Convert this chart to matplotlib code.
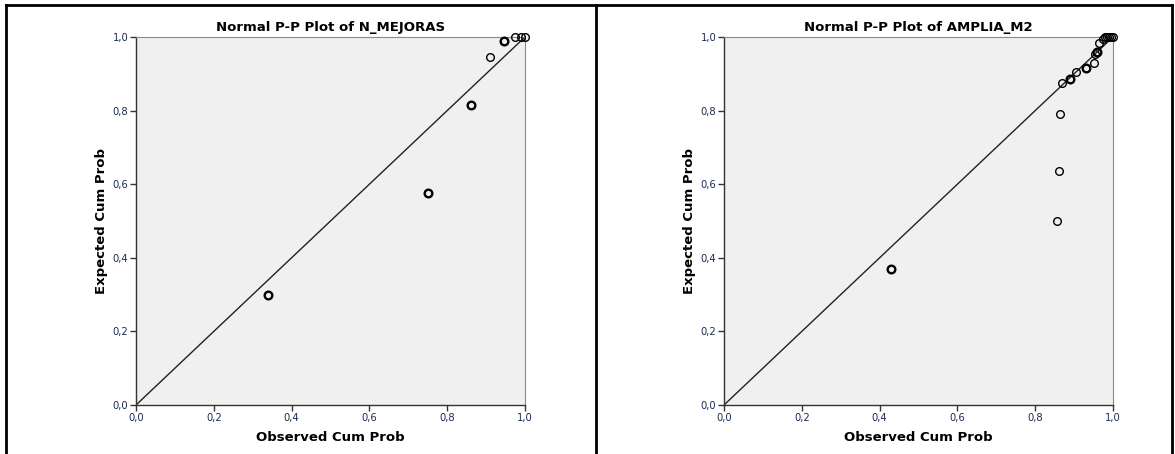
import matplotlib
matplotlib.use("Agg")
import matplotlib.pyplot as plt
from matplotlib.lines import Line2D
from matplotlib.ticker import FixedLocator, FuncFormatter

# ---- data ----
titles = ["Normal P-P Plot of N_MEJORAS", "Normal P-P Plot of AMPLIA_M2"]
xlabel = "Observed Cum Prob"
ylabel = "Expected Cum Prob"
ticks = [0.0, 0.2, 0.4, 0.6, 0.8, 1.0]

mejoras_obs = [0.34, 0.75, 0.86, 0.91, 0.945, 0.975, 0.99, 1.0]
mejoras_exp = [0.30, 0.575, 0.815, 0.945, 0.99, 1.0, 1.0, 1.0]
mejoras_cnt = [2, 2, 2, 1, 2, 1, 1, 1]

amplia_obs = [0.43, 0.855, 0.86, 0.865, 0.87, 0.89, 0.905, 0.93, 0.95, 0.955,
              0.96, 0.965, 0.975, 0.98, 0.985, 0.99, 0.995, 1.0]
amplia_exp = [0.37, 0.50, 0.635, 0.79, 0.875, 0.885, 0.905, 0.915, 0.93, 0.955,
              0.96, 0.985, 0.995, 1.0, 1.0, 1.0, 1.0, 1.0]
amplia_cnt = [2, 1, 1, 1, 1, 2, 1, 2, 1, 1, 2, 1, 1, 1, 1, 1, 1, 1]

panels = [(mejoras_obs, mejoras_exp, mejoras_cnt), (amplia_obs, amplia_exp, amplia_cnt)]

W, H = 1175, 454
fig = plt.figure(figsize=(W / 100, H / 100), dpi=100)
fig.patch.set_facecolor("white")

tick_color = "#1c2a55"
fmt = FuncFormatter(lambda v, p: f"{v:.1f}".replace(".", ","))

lefts = [136, 724]
for i, (obs, exp, cnt) in enumerate(panels):
    ax = fig.add_axes([lefts[i] / W, (H - 405) / H, 389 / W, 368 / H])
    ax.set_facecolor("#f0f0f0")
    ax.set_xlim(0, 1)
    ax.set_ylim(0, 1)
    ax.plot([0, 1], [0, 1], color="#222222", lw=1.0, zorder=2)
    for x, y, c in zip(obs, exp, cnt):
        ax.plot([x], [y], marker="o", ms=5.5, mfc="none", mec="black",
                mew=1.0 if c == 1 else 1.7, ls="none", zorder=3, clip_on=False)
    ax.xaxis.set_major_locator(FixedLocator(ticks))
    ax.yaxis.set_major_locator(FixedLocator(ticks))
    ax.xaxis.set_major_formatter(fmt)
    ax.yaxis.set_major_formatter(fmt)
    ax.tick_params(direction="out", length=4, width=1, colors="#333333",
                   labelcolor=tick_color, labelsize=7.2, pad=1.5)
    for s in ["left", "bottom"]:
        ax.spines[s].set_color("#333333")
        ax.spines[s].set_linewidth(1.0)
    for s in ["top", "right"]:
        ax.spines[s].set_color("#8a8a8a")
        ax.spines[s].set_linewidth(0.8)
    ax.set_title(titles[i], fontsize=9.5, fontweight="bold", pad=4)
    ax.set_xlabel(xlabel, fontsize=9.5, fontweight="bold", labelpad=6)
    ax.set_ylabel(ylabel, fontsize=9.5, fontweight="bold", labelpad=3)

# outer frame and divider
frame_kw = dict(color="black", lw=2, transform=fig.transFigure)
x0, x1 = 5.5 / W, 1171.5 / W
y_top = 1 - 4.5 / H
fig.add_artist(Line2D([x0, x1], [y_top, y_top], **frame_kw))
fig.add_artist(Line2D([x0, x0], [0, y_top], **frame_kw))
fig.add_artist(Line2D([x1, x1], [0, y_top], **frame_kw))
fig.add_artist(Line2D([595.5 / W, 595.5 / W], [0, y_top], **frame_kw))

fig.savefig("out.png", dpi=100)
